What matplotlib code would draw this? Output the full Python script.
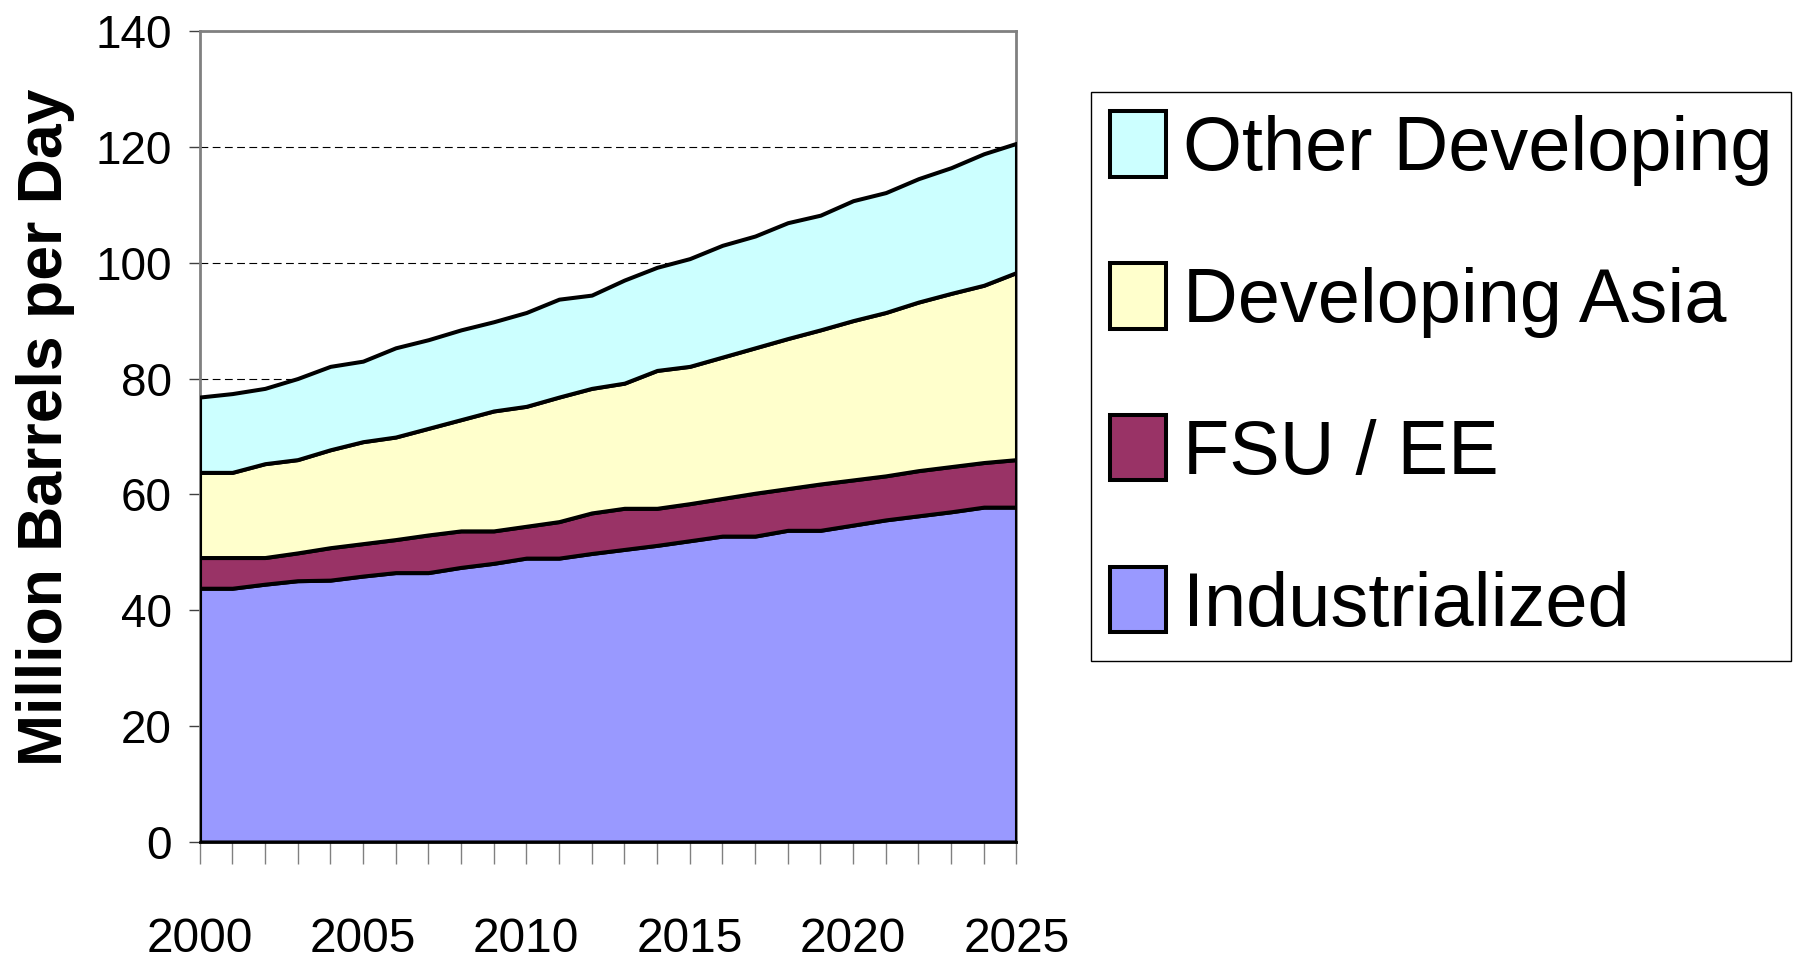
import matplotlib
matplotlib.use("Agg")
import matplotlib.pyplot as plt

# years and regional demand (million barrels per day)
years = list(range(2000, 2026))
industrialized = [43.8, 43.8, 44.5, 45.1, 45.2, 45.9, 46.5, 46.5, 47.4, 48.1, 49.0, 49.0, 49.8,
                  50.5, 51.2, 52.0, 52.8, 52.8, 53.8, 53.8, 54.7, 55.6, 56.3, 57.0, 57.8, 57.8]
fsu_ee = [5.3, 5.3, 4.6, 4.8, 5.6, 5.6, 5.7, 6.5, 6.3, 5.6, 5.5, 6.3, 7.0,
          7.1, 6.4, 6.4, 6.5, 7.4, 7.2, 8.0, 7.8, 7.6, 7.8, 7.8, 7.7, 8.2]
dev_asia = [14.7, 14.7, 16.2, 16.1, 16.9, 17.6, 17.7, 18.4, 19.2, 20.7, 20.7, 21.5, 21.5,
            21.6, 23.8, 23.7, 24.4, 25.1, 25.9, 26.6, 27.5, 28.2, 29.1, 29.9, 30.6, 32.3]
other_dev = [13.0, 13.6, 13.0, 14.0, 14.4, 13.9, 15.4, 15.3, 15.5, 15.4, 16.2, 16.9, 16.1,
             17.8, 17.8, 18.6, 19.3, 19.3, 20.0, 19.8, 20.7, 20.7, 21.3, 21.7, 22.7, 22.3]

labels = ['Industrialized', 'FSU / EE', 'Developing Asia', 'Other Developing']
colors = ['#9999FF', '#993366', '#FFFFCC', '#CCFFFF']
yticks = [0, 20, 40, 60, 80, 100, 120, 140]

font = 'Liberation Sans'

fig = plt.figure(figsize=(18.09, 9.67), dpi=100)
ax = fig.add_axes([0.1103, 0.1293, 0.4516, 0.8387])

ax.stackplot(years, industrialized, fsu_ee, dev_asia, other_dev,
             colors=colors, edgecolor='black', linewidth=2.9, labels=labels, zorder=3)

ax.set_xlim(2000, 2025)
ax.set_ylim(0, 140)
ax.set_axisbelow(True)
ax.yaxis.grid(True, color='black', linestyle=(0, (7, 4)), linewidth=0.8)

ax.set_yticks(yticks)
ax.set_yticklabels([str(v) for v in yticks], fontfamily=font, fontsize=33)
ax.set_xticks(years)
ax.set_xticklabels([str(y) if y % 5 == 0 else '' for y in years], fontfamily=font, fontsize=34.5)
ax.tick_params(axis='y', length=8, width=1, color='#404040', pad=12)
ax.tick_params(axis='x', length=16, width=1, color='#808080', pad=38)

for side in ['top', 'right', 'left']:
    ax.spines[side].set_color('#808080')
    ax.spines[side].set_linewidth(2)
ax.spines['bottom'].set_color('black')
ax.spines['bottom'].set_linewidth(2)

fig.text(0.0254, 0.5584, 'Million Barrels per Day', rotation=90, ha='center', va='center',
         fontfamily=font, fontweight='bold', fontsize=45)

handles, labs = ax.get_legend_handles_labels()
leg = ax.legend(handles[::-1], labs[::-1], loc='center left',
                bbox_to_anchor=(1091 / 1809, 1 - 376.5 / 967), bbox_transform=fig.transFigure,
                borderaxespad=0, prop={'family': font, 'size': 54.5},
                handlelength=0.74, handleheight=0.95, handletextpad=0.22,
                labelspacing=1.02, borderpad=0.25, fancybox=False, framealpha=1)
leg.get_frame().set_edgecolor('black')
leg.get_frame().set_linewidth(1)
for h in leg.legend_handles:
    h.set_linewidth(2.9)
    h.set_edgecolor('black')

fig.savefig('out.png', dpi=100)
